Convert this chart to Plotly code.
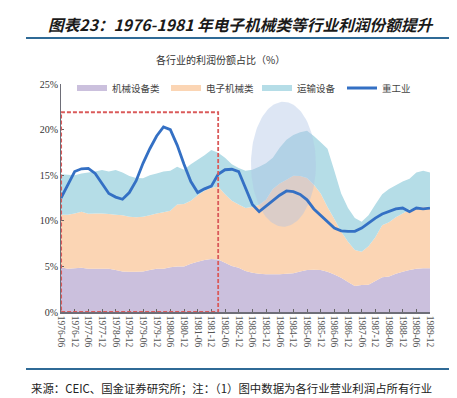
import plotly.graph_objects as go
import numpy as np

# quarterly categories 1976-06 .. 1989-12
categories = []
for y in range(1976, 1990):
    for m in ["03", "06", "09", "12"]:
        if y == 1976 and m == "03":
            continue
        categories.append(f"{y}-{m}")

tick_labels = [c for c in categories if c.endswith("-06") or c.endswith("-12")]

machinery = [4.9, 4.75, 4.8, 4.85, 4.75, 4.75, 4.75, 4.75, 4.6, 4.45,
             4.4, 4.4, 4.45, 4.6, 4.75, 4.75, 4.9, 5.0, 5.0, 5.3,
             5.5, 5.7, 5.8, 5.75, 5.4, 5.05, 4.85, 4.5, 4.3, 4.2,
             4.15, 4.15, 4.15, 4.2, 4.25, 4.45, 4.6, 4.63, 4.6, 4.4,
             4.1, 3.75, 3.3, 2.85, 2.95, 3.0, 3.4, 3.8, 3.9, 4.2,
             4.4, 4.6, 4.75, 4.8, 4.8]

electronics = [5.75, 5.9, 6.0, 6.15, 6.01, 6.05, 6.05, 6.0, 6.05, 6.15,
               6.05, 6.0, 6.0, 6.0, 6.05, 6.2, 6.2, 6.8, 6.85, 6.9,
               7.3, 7.6, 7.8, 8.0, 7.5, 7.15, 6.95, 6.9, 7.2, 7.55,
               8.15, 9.35, 9.95, 10.3, 10.7, 10.45, 10.1, 9.32, 8.4, 7.1,
               6.1, 5.05, 4.4, 3.95, 3.65, 4.2, 4.8, 5.7, 5.95, 6.2,
               6.4, 6.6, 6.65, 6.7, 6.75]

transport = [4.45, 4.4, 4.2, 4.2, 4.54, 4.6, 4.77, 4.65, 4.92, 4.7,
             4.45, 4.3, 4.21, 4.4, 4.4, 4.45, 4.4, 4.14, 3.75, 4.0,
             3.9, 3.9, 4.16, 3.7, 4.0, 4.0, 4.0, 4.1, 4.1, 4.19,
             4.0, 3.4, 3.9, 4.4, 4.45, 4.8, 5.18, 5.35, 5.6, 6.4,
             5.3, 4.2, 3.7, 3.5, 3.3, 3.4, 3.6, 3.4, 3.65, 3.5,
             3.5, 3.4, 3.9, 4.0, 3.75]

heavy = [12.5, 14.0, 15.4, 15.7, 15.75, 15.2, 14.1, 13.0, 12.6, 12.36,
         13.1, 14.4, 16.3, 17.9, 19.3, 20.3, 20.0, 18.3, 16.2, 14.3,
         13.1, 13.5, 13.8, 15.1, 15.6, 15.65, 15.4, 13.5, 11.8, 11.0,
         11.6, 12.2, 12.8, 13.27, 13.2, 12.9, 12.3, 11.3, 10.6, 9.8,
         9.2, 8.9, 8.83, 8.85, 9.2, 9.74, 10.3, 10.75, 11.05, 11.3,
         11.4, 11.0, 11.4, 11.3, 11.38]

x_idx = list(range(len(categories)))
tick_idx = [categories.index(t) for t in tick_labels]

# plot-area pixel geometry
W, H = 457, 398
L, R, T, B = 53, 35, 76, 94
pw, ph = W - L - R, H - T - B

def px(xp):
    return (xp - L) / pw

def py(yp):
    return (H - B - yp) / ph

fig = go.Figure()
fig.add_trace(go.Scatter(x=x_idx, y=machinery, name="机械设备类", stackgroup="one",
                         mode="none", fillcolor="#CBC0DD", legendwidth=49))
fig.add_trace(go.Scatter(x=x_idx, y=electronics, name="电子机械类", stackgroup="one",
                         mode="none", fillcolor="#FBD5B4", legendwidth=46))
fig.add_trace(go.Scatter(x=x_idx, y=transport, name="运输设备", stackgroup="one",
                         mode="none", fillcolor="#B5DDE7", legendwidth=40))

# highlight ellipse (decoration) between areas and line
cx, cy, rx, ry = 32.55, 16.2, 4.75, 6.85
t = np.linspace(0, 2 * np.pi, 121)
fig.add_trace(go.Scatter(x=cx + rx * np.cos(t), y=cy + ry * np.sin(t), mode="lines",
                         line=dict(width=0), fill="toself",
                         fillcolor="rgba(175,195,228,0.42)", showlegend=False,
                         hoverinfo="skip"))

fig.add_trace(go.Scatter(x=x_idx, y=heavy, name="重工业", mode="lines",
                         line=dict(color="#3470C4", width=2.8)))

shapes = [
    dict(type="rect", xref="x", yref="y", x0=0.02, x1=23.0, y0=0, y1=21.9,
         line=dict(color="#DA5A5A", width=1.8, dash="4px,2px"), layer="above"),
    dict(type="line", xref="paper", yref="paper", x0=px(18), x1=px(457),
         y0=py(30), y1=py(30), line=dict(color="#2F6A96", width=2)),
    dict(type="line", xref="paper", yref="paper", x0=px(18), x1=px(457),
         y0=py(361), y1=py(361), line=dict(color="#2F6A96", width=2)),
]

annotations = [
    dict(text="<b><i>图表23：1976-1981 年电子机械类等行业利润份额提升</i></b>",
         xref="paper", yref="paper", x=px(233), y=py(16.5), xanchor="center",
         yanchor="middle", showarrow=False,
         font=dict(family="Noto Sans CJK SC", size=15.7, color="#1a1a1a")),
    dict(text="各行业的利润份额占比（%）", xref="paper", yref="paper",
         x=px(212), y=py(52), xanchor="center", yanchor="middle", showarrow=False,
         font=dict(family="Noto Sans CJK SC", size=10, color="#333333")),
    dict(text="来源：CEIC、国金证券研究所；注：（1）图中数据为各行业营业利润占所有行业",
         xref="paper", yref="paper", x=px(21), y=py(380), xanchor="left",
         yanchor="middle", showarrow=False,
         font=dict(family="Noto Sans CJK SC", size=11.4, color="#222222")),
]

fig.update_layout(
    width=W, height=H,
    margin=dict(l=L, r=R, t=T, b=B, pad=0),
    paper_bgcolor="white", plot_bgcolor="white",
    showlegend=True,
    legend=dict(orientation="h", x=px(64), y=py(80), xanchor="left", yanchor="middle",
                font=dict(family="Noto Sans CJK SC", size=9.5, color="#444444"),
                bgcolor="rgba(0,0,0,0)", traceorder="normal", itemwidth=30,
                tracegroupgap=0),
    shapes=shapes,
    annotations=annotations,
    xaxis=dict(range=[0, len(categories) - 1], tickmode="array", tickvals=tick_idx,
               ticktext=tick_labels, tickangle=90, ticks="inside", ticklen=3,
               tickcolor="#666666", showline=True, linecolor="#6E6E78", linewidth=1.5,
               showgrid=False, zeroline=False,
               tickfont=dict(family="Liberation Serif", size=9.5, color="#555555")),
    yaxis=dict(range=[0, 25], tickvals=[0, 5, 10, 15, 20, 25],
               ticktext=["0%", "5%", "10%", "15%", "20%", "25%"],
               ticks="inside", ticklen=3, tickcolor="#666666", showline=True,
               linecolor="#6E6E78", linewidth=1, showgrid=False, zeroline=False,
               tickfont=dict(family="Liberation Serif", size=10, color="#333333")),
)

fig.write_html("out.html")
